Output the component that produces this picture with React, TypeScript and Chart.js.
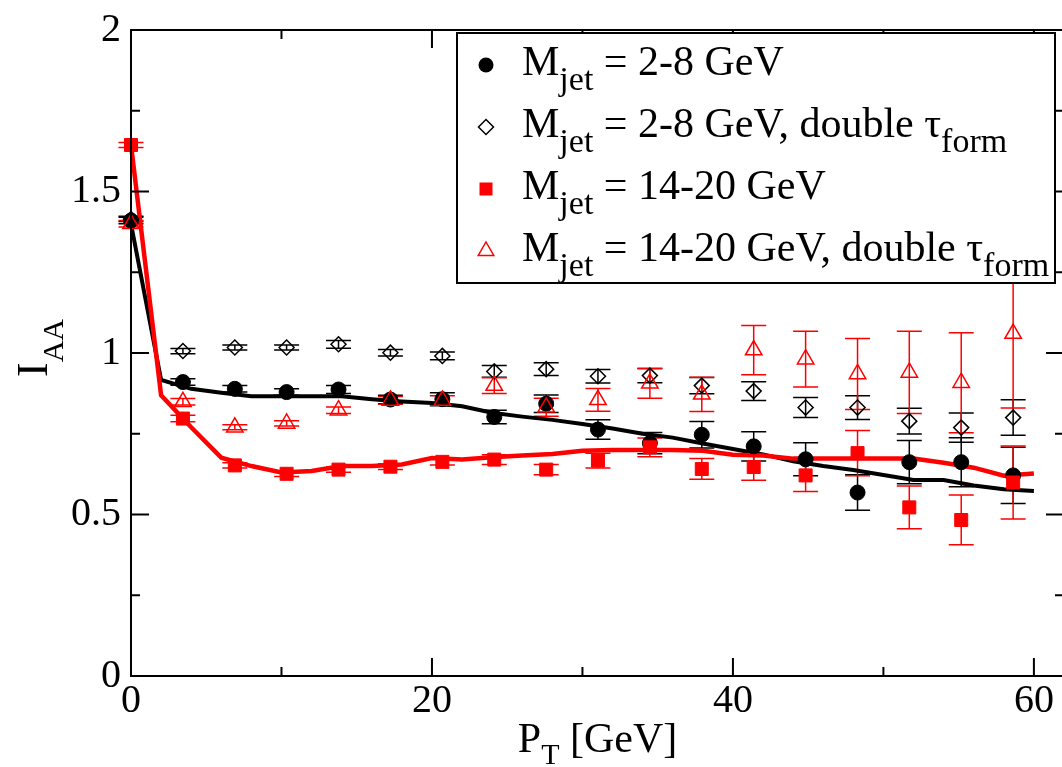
import React, { useEffect, useRef } from 'react';
import { Chart, registerables } from 'chart.js';

Chart.register(...registerables);

// ---------- data ----------
const ptPoints = [0, 3.45, 6.9, 10.34, 13.79, 17.24, 20.69, 24.14, 27.59, 31.03, 34.48, 37.93, 41.38, 44.83, 48.28, 51.72, 55.17, 58.62];

const iaaLight = [1.41, 0.91, 0.889, 0.879, 0.887, 0.856, 0.857, 0.802, 0.843, 0.763, 0.721, 0.747, 0.711, 0.671, 0.568, 0.662, 0.662, 0.621];
const errLight = [0.01, 0.01, 0.01, 0.01, 0.012, 0.013, 0.02, 0.021, 0.027, 0.03, 0.033, 0.041, 0.045, 0.051, 0.055, 0.067, 0.076, 0.087];

const iaaLightDouble = [1.415, 1.006, 1.017, 1.017, 1.027, 1.001, 0.991, 0.943, 0.95, 0.928, 0.93, 0.899, 0.882, 0.831, 0.831, 0.789, 0.769, 0.8];
const errLightDouble = [0.008, 0.008, 0.008, 0.008, 0.012, 0.01, 0.012, 0.018, 0.02, 0.021, 0.022, 0.025, 0.029, 0.031, 0.037, 0.04, 0.045, 0.055];

const iaaHeavy = [1.644, 0.797, 0.652, 0.626, 0.639, 0.648, 0.663, 0.67, 0.639, 0.667, 0.708, 0.641, 0.647, 0.621, 0.69, 0.522, 0.483, 0.599];
const errHeavy = [0.008, 0.01, 0.008, 0.008, 0.008, 0.009, 0.01, 0.015, 0.016, 0.023, 0.029, 0.032, 0.041, 0.05, 0.07, 0.066, 0.077, 0.113];

const iaaHeavyDouble = [1.4, 0.849, 0.77, 0.782, 0.823, 0.853, 0.853, 0.899, 0.832, 0.855, 0.906, 0.872, 1.009, 0.981, 0.935, 0.94, 0.908, 1.06];
const errHeavyDouble = [0.01, 0.01, 0.008, 0.008, 0.01, 0.012, 0.015, 0.024, 0.028, 0.035, 0.046, 0.053, 0.076, 0.086, 0.11, 0.127, 0.155, 0.23];

const ptCurve = [0, 2, 4, 6, 8, 10, 12, 14, 16, 18, 20, 22, 24, 26, 28, 30, 32, 34, 36, 38, 40, 42, 44, 46, 48, 50, 52, 54, 56, 58, 60];
const curveLight = [1.4, 0.917, 0.889, 0.877, 0.866, 0.866, 0.866, 0.866, 0.857, 0.85, 0.845, 0.835, 0.815, 0.803, 0.793, 0.78, 0.766, 0.75, 0.738, 0.72, 0.703, 0.686, 0.665, 0.65, 0.638, 0.622, 0.607, 0.607, 0.59, 0.578, 0.573];
const curveHeavy = [1.645, 0.869, 0.77, 0.676, 0.65, 0.63, 0.635, 0.65, 0.65, 0.655, 0.675, 0.67, 0.677, 0.683, 0.687, 0.697, 0.7, 0.7, 0.7, 0.697, 0.685, 0.683, 0.673, 0.673, 0.673, 0.673, 0.673, 0.66, 0.645, 0.62, 0.627];

const xMajorTicks = [0, 20, 40, 60];
const xMinorTicks = [10, 30, 50];
const yMajorTicks = [0, 0.5, 1, 1.5, 2];
const yMinorTicks = [0.25, 0.75, 1.25, 1.75];

type Seg = { t: string; sub?: boolean };
const legendLabels: Seg[][] = [
  [{ t: 'M' }, { t: 'jet', sub: true }, { t: ' = 2-8 GeV' }],
  [{ t: 'M' }, { t: 'jet', sub: true }, { t: ' = 2-8 GeV, double \u03C4' }, { t: 'form', sub: true }],
  [{ t: 'M' }, { t: 'jet', sub: true }, { t: ' = 14-20 GeV' }],
  [{ t: 'M' }, { t: 'jet', sub: true }, { t: ' = 14-20 GeV, double \u03C4' }, { t: 'form', sub: true }],
];
const xTitle: Seg[] = [{ t: 'P' }, { t: 'T', sub: true }, { t: ' [GeV]' }];
const yTitle: Seg[] = [{ t: 'I' }, { t: 'AA', sub: true }];

// ---------- styling ----------
const W = 1075;
const H = 767;
const FONT = '"Liberation Serif", "Times New Roman", Times, "Nimbus Roman", "DejaVu Serif", serif';
const RED = '#ff0000';
const BLACK = '#000000';

const toXY = (xs: number[], ys: number[]) => xs.map((x, i) => ({ x, y: ys[i] }));

function drawRich(ctx: CanvasRenderingContext2D, segs: Seg[], x: number, y: number, main: number, sub: number, off: number) {
  for (const s of segs) {
    ctx.font = `${s.sub ? sub : main}px ${FONT}`;
    ctx.fillText(s.t, x, s.sub ? y + off : y);
    x += ctx.measureText(s.t).width;
  }
  return x;
}
function richWidth(ctx: CanvasRenderingContext2D, segs: Seg[], main: number, sub: number) {
  let w = 0;
  for (const s of segs) {
    ctx.font = `${s.sub ? sub : main}px ${FONT}`;
    w += ctx.measureText(s.t).width;
  }
  return w;
}

function drawSymbol(ctx: CanvasRenderingContext2D, kind: number, x: number, y: number) {
  ctx.save();
  ctx.lineWidth = 1.5;
  if (kind === 0) {
    ctx.fillStyle = BLACK;
    ctx.beginPath();
    ctx.arc(x, y, 7.5, 0, Math.PI * 2);
    ctx.fill();
  } else if (kind === 1) {
    ctx.strokeStyle = BLACK;
    ctx.beginPath();
    ctx.moveTo(x, y - 7.5);
    ctx.lineTo(x + 7.5, y);
    ctx.lineTo(x, y + 7.5);
    ctx.lineTo(x - 7.5, y);
    ctx.closePath();
    ctx.stroke();
  } else if (kind === 2) {
    ctx.fillStyle = RED;
    ctx.fillRect(x - 6.5, y - 6.5, 13, 13);
  } else {
    ctx.strokeStyle = RED;
    const r = 9;
    ctx.beginPath();
    ctx.moveTo(x, y - r);
    ctx.lineTo(x + r * 0.866, y + r * 0.5);
    ctx.lineTo(x - r * 0.866, y + r * 0.5);
    ctx.closePath();
    ctx.stroke();
  }
  ctx.restore();
}

const errorSeries = [
  { vals: iaaLight, errs: errLight, color: BLACK },
  { vals: iaaLightDouble, errs: errLightDouble, color: BLACK },
  { vals: iaaHeavy, errs: errHeavy, color: RED },
  { vals: iaaHeavyDouble, errs: errHeavyDouble, color: RED },
];

const decorPlugin = {
  id: 'decor',
  beforeDatasetsDraw(chart: any) {
    const { ctx, scales } = chart;
    const xs = scales.x;
    const ys = scales.y;
    ctx.save();
    ctx.lineWidth = 1.5;
    for (const s of errorSeries) {
      ctx.strokeStyle = s.color;
      ptPoints.forEach((p, i) => {
        const px = xs.getPixelForValue(p);
        const y1 = ys.getPixelForValue(s.vals[i] + s.errs[i]);
        const y2 = ys.getPixelForValue(s.vals[i] - s.errs[i]);
        ctx.beginPath();
        ctx.moveTo(px, y1);
        ctx.lineTo(px, y2);
        ctx.moveTo(px - 12.5, y1);
        ctx.lineTo(px + 12.5, y1);
        ctx.moveTo(px - 12.5, y2);
        ctx.lineTo(px + 12.5, y2);
        ctx.stroke();
      });
    }
    ctx.restore();
  },
  afterDraw(chart: any) {
    const { ctx, scales, chartArea } = chart;
    const xs = scales.x;
    const ys = scales.y;
    const { left, right, top, bottom } = chartArea;
    ctx.save();
    ctx.strokeStyle = BLACK;
    ctx.lineWidth = 2;
    ctx.strokeRect(left, top, right - left, bottom - top);
    const tick = (vals: number[], len: number, horiz: boolean) => {
      for (const v of vals) {
        ctx.beginPath();
        if (horiz) {
          const px = xs.getPixelForValue(v);
          ctx.moveTo(px, bottom);
          ctx.lineTo(px, bottom - len);
          ctx.moveTo(px, top);
          ctx.lineTo(px, top + len);
        } else {
          const py = ys.getPixelForValue(v);
          ctx.moveTo(left, py);
          ctx.lineTo(left + len, py);
          ctx.moveTo(right, py);
          ctx.lineTo(right - len, py);
        }
        ctx.stroke();
      }
    };
    tick(xMajorTicks, 18, true);
    tick(xMinorTicks, 9, true);
    tick(yMajorTicks, 18, false);
    tick(yMinorTicks, 9, false);

    ctx.fillStyle = BLACK;
    ctx.textBaseline = 'alphabetic';
    ctx.textAlign = 'left';
    const xw = richWidth(ctx, xTitle, 42, 30);
    drawRich(ctx, xTitle, (left + right) / 2 - xw / 2, 752, 42, 30, 12);
    ctx.save();
    ctx.translate(47, 377);
    ctx.rotate(-Math.PI / 2);
    drawRich(ctx, yTitle, 0, 0, 44, 30, 16);
    ctx.restore();

    const lx = 457, ly = 33, lw = 598, lh = 250;
    ctx.fillStyle = '#ffffff';
    ctx.fillRect(lx, ly, lw, lh);
    ctx.strokeStyle = BLACK;
    ctx.lineWidth = 2;
    ctx.strokeRect(lx, ly, lw, lh);
    legendLabels.forEach((segs, i) => {
      const base = 75 + i * 62;
      drawSymbol(ctx, i, 486, base - 10);
      ctx.fillStyle = BLACK;
      drawRich(ctx, segs, 522, base, 42, 34, 15);
    });
    ctx.restore();
  },
};

export default function App() {
  const ref = useRef<HTMLCanvasElement | null>(null);

  useEffect(() => {
    let chart: Chart | null = null;
    let cancelled = false;
    const make = () => {
      if (cancelled || !ref.current) return;
      const tickFont = { family: FONT, size: 40, lineHeight: 1 };
      chart = new Chart(ref.current, {
        type: 'scatter',
        data: {
          datasets: [
            {
              label: 'curve 2-8',
              data: toXY(ptCurve, curveLight),
              showLine: true,
              borderColor: BLACK,
              borderWidth: 4,
              pointRadius: 0,
              fill: false,
              clip: false,
              order: 10,
            } as any,
            {
              label: 'curve 14-20',
              data: toXY(ptCurve, curveHeavy),
              showLine: true,
              borderColor: RED,
              borderWidth: 4.5,
              pointRadius: 0,
              fill: false,
              clip: false,
              order: 9,
            } as any,
            {
              label: 'M_jet = 2-8 GeV',
              data: toXY(ptPoints, iaaLight),
              pointStyle: 'circle',
              pointRadius: 7.5,
              backgroundColor: BLACK,
              borderColor: BLACK,
              borderWidth: 1,
              clip: false,
              order: 4,
            } as any,
            {
              label: 'M_jet = 2-8 GeV, double tau_form',
              data: toXY(ptPoints, iaaLightDouble),
              pointStyle: 'rectRot',
              pointRadius: 7.5,
              backgroundColor: 'rgba(0,0,0,0)',
              borderColor: BLACK,
              borderWidth: 1.5,
              clip: false,
              order: 3,
            } as any,
            {
              label: 'M_jet = 14-20 GeV',
              data: toXY(ptPoints, iaaHeavy),
              pointStyle: 'rect',
              pointRadius: 9.2,
              backgroundColor: RED,
              borderColor: RED,
              borderWidth: 1,
              clip: false,
              order: 2,
            } as any,
            {
              label: 'M_jet = 14-20 GeV, double tau_form',
              data: toXY(ptPoints, iaaHeavyDouble),
              pointStyle: 'triangle',
              pointRadius: 9.5,
              backgroundColor: 'rgba(0,0,0,0)',
              borderColor: RED,
              borderWidth: 1.5,
              clip: false,
              order: 1,
            } as any,
          ],
        },
        options: {
          animation: false,
          responsive: false,
          devicePixelRatio: 1,
          layout: { padding: { left: 0, top: 22, right: W - 1065, bottom: 0 } },
          plugins: { legend: { display: false }, tooltip: { enabled: false } },
          events: [],
          scales: {
            x: {
              type: 'linear',
              min: 0,
              max: 62,
              afterBuildTicks: (s: any) => {
                s.ticks = xMajorTicks.map((v) => ({ value: v }));
              },
              afterFit: (s: any) => {
                s.height = H - 676;
              },
              ticks: {
                font: tickFont,
                color: BLACK,
                padding: 5,
                maxRotation: 0,
                autoSkip: false,
                callback: (v: any) => String(v),
              },
              grid: { display: false, drawTicks: false },
              border: { display: false },
            },
            y: {
              type: 'linear',
              min: 0,
              max: 2,
              afterBuildTicks: (s: any) => {
                s.ticks = yMajorTicks.map((v) => ({ value: v }));
              },
              afterFit: (s: any) => {
                s.width = 131;
              },
              ticks: {
                font: tickFont,
                color: BLACK,
                padding: 10,
                autoSkip: false,
                callback: (v: any) => String(v),
              },
              grid: { display: false, drawTicks: false },
              border: { display: false },
            },
          },
        } as any,
        plugins: [decorPlugin],
      });
    };
    const fonts: any = (document as any).fonts;
    if (fonts && fonts.load) {
      Promise.all([fonts.load('40px "Liberation Serif"'), fonts.load('40px "Times New Roman"')]).then(make, make);
    } else {
      make();
    }
    return () => {
      cancelled = true;
      if (chart) chart.destroy();
    };
  }, []);

  return (
    <div style={{ position: 'fixed', left: 0, top: 0, width: 1062, height: 767, overflow: 'hidden', background: '#fff', fontFamily: FONT }}>
      <canvas ref={ref} width={W} height={H} style={{ display: 'block', width: W, height: H }} />
    </div>
  );
}
